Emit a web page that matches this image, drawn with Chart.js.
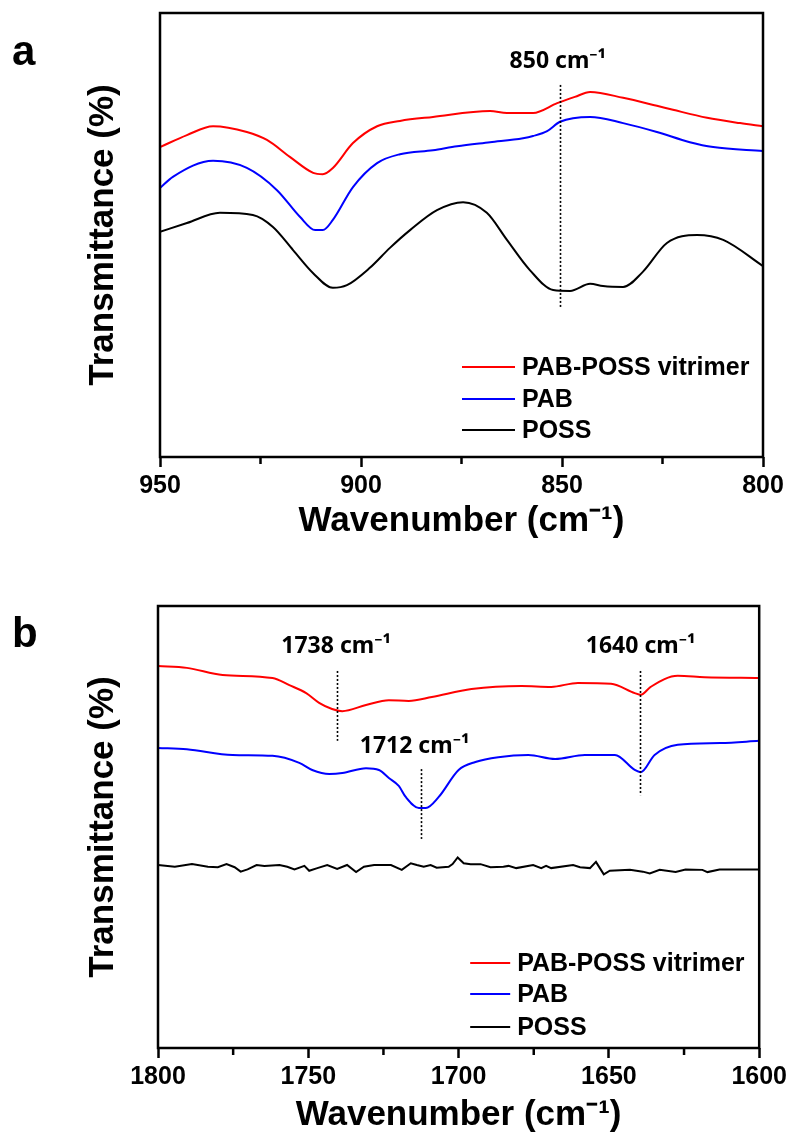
<!DOCTYPE html>
<html>
<head>
<meta charset="utf-8">
<script src="https://cdn.jsdelivr.net/npm/chart.js@4.4.1/dist/chart.umd.min.js"></script>
<style>
  html, body { margin: 0; padding: 0; background: #fff; }
  #wrapA { position: absolute; left: 0; top: 0; width: 791px; height: 560px; }
  #wrapB { position: absolute; left: 0; top: 560px; width: 791px; height: 586px; }
</style>
</head>
<body>
<div id="wrapA"><canvas id="chartA" width="791" height="560"></canvas></div>
<div id="wrapB"><canvas id="chartB" width="791" height="586"></canvas></div>
<script>
// ---- Panel a: 950-800 cm-1 ----
const aVitX = [950, 943.3, 936.8, 928.4, 923.4, 917.7, 911.9, 909.5, 907.0, 902.0, 896.0, 890.3, 882.1, 867.9, 863.7, 857.2, 851.2, 846.8, 843.0, 834.8, 826.4, 822.4, 813.9, 805.7, 800];
const aVitY = [69.8, 72.5, 74.5, 73.2, 71.4, 67.6, 64.0, 63.7, 65.1, 70.7, 74.5, 75.7, 76.6, 77.9, 77.5, 77.5, 79.7, 81.1, 82.2, 80.9, 79.1, 78.2, 76.4, 75.2, 74.5];

const aPabX = [950, 946.8, 936.8, 928.4, 920.9, 915.2, 911.4, 909.5, 907.0, 902.0, 896.0, 890.3, 882.1, 876.1, 867.9, 859.7, 857.2, 853.7, 850.5, 843.0, 834.8, 826.4, 818.2, 812.4, 800];
const aPabY = [60.6, 63.1, 66.7, 65.1, 60.1, 54.1, 51.1, 51.1, 53.4, 60.8, 66.2, 68.2, 69.1, 70.0, 70.9, 71.8, 72.3, 73.4, 75.5, 76.6, 75.2, 73.2, 70.9, 69.8, 68.9];

const aPossX = [950, 943.3, 935.1, 926.9, 921.9, 916.9, 911.9, 907.0, 903.5, 897.8, 892.8, 887.8, 881.1, 874.6, 868.7, 863.7, 858.0, 852.2, 848.0, 843.0, 839.8, 834.8, 829.9, 823.9, 816.4, 809.9, 800];
const aPossY = [50.7, 52.7, 55.0, 54.5, 51.8, 46.6, 41.4, 38.1, 38.7, 42.6, 47.1, 51.1, 55.6, 57.4, 55.0, 48.9, 42.1, 37.6, 37.4, 39.0, 38.5, 38.3, 41.7, 48.2, 50.0, 48.9, 43.0];

// ---- Panel b: 1800-1600 cm-1 ----
const bVitX = [1800, 1790.4, 1778.5, 1761.9, 1756.3, 1750.7, 1746.4, 1742.1, 1738.7, 1730.8, 1723.2, 1716.6, 1708.9, 1695.7, 1679.1, 1669.2, 1660.3, 1649.3, 1641.4, 1639.4, 1636.1, 1627.1, 1618.2, 1600];
const bVitY = [86.4, 86.0, 84.4, 83.7, 82.1, 80.3, 78.1, 76.7, 76.2, 77.6, 78.7, 78.5, 79.4, 81.2, 81.9, 81.7, 82.6, 82.4, 80.3, 79.9, 81.7, 84.2, 83.9, 83.7];

const bPabX = [1800, 1790.4, 1775.2, 1761.9, 1753.0, 1748.7, 1743.0, 1738.7, 1730.8, 1726.5, 1723.2, 1719.9, 1717.6, 1713.2, 1710.9, 1706.6, 1700.0, 1694.4, 1686.8, 1676.8, 1667.9, 1658.0, 1648.0, 1641.4, 1639.4, 1634.8, 1627.1, 1612.9, 1600];
const bPabY = [67.9, 67.6, 66.3, 66.1, 64.5, 62.9, 62.0, 62.2, 63.3, 62.9, 61.1, 59.3, 56.8, 54.3, 54.3, 56.8, 62.9, 64.7, 65.8, 66.3, 65.4, 66.3, 66.3, 62.9, 62.4, 66.3, 68.6, 69.0, 69.5];

const bPossX = [1800, 1794.4, 1788.7, 1783.4, 1780.1, 1777.2, 1774.5, 1772.5, 1770.2, 1767.2, 1764.6, 1759.6, 1757.0, 1754.6, 1751.3, 1749.7, 1747.0, 1743.7, 1740.4, 1737.1, 1734.1, 1731.5, 1728.1, 1722.5, 1718.9, 1715.9, 1713.9, 1711.6, 1709.3, 1707.3, 1703.3, 1702.0, 1700.3, 1698.3, 1696.0, 1692.7, 1689.4, 1685.1, 1683.4, 1680.8, 1675.2, 1672.5, 1670.9, 1669.2, 1661.9, 1659.6, 1656.3, 1654.3, 1653.0, 1651.7, 1649.7, 1643.0, 1638.7, 1636.4, 1633.1, 1627.8, 1624.5, 1618.9, 1617.2, 1613.2, 1607.9, 1600];
const bPossY = [41.4, 41.0, 41.6, 41.0, 40.9, 41.6, 40.9, 39.9, 40.4, 41.4, 41.2, 41.4, 41.0, 40.4, 41.2, 40.1, 40.7, 41.4, 40.5, 41.4, 39.8, 41.0, 41.4, 41.4, 40.3, 41.8, 41.4, 41.0, 41.4, 40.8, 41.0, 41.6, 43.1, 41.8, 41.6, 41.6, 40.9, 41.0, 41.2, 40.7, 41.4, 40.7, 41.2, 40.7, 41.4, 40.9, 40.7, 42.1, 40.7, 39.3, 40.1, 40.3, 39.9, 39.5, 40.3, 39.8, 40.4, 40.3, 39.8, 40.4, 40.4, 40.4];

const seriesNames = ['PAB-POSS vitrimer', 'PAB', 'POSS'];
const seriesColors = ['#ff0000', '#0000ff', '#000000'];

const ticksA = [950, 900, 850, 800];
const minorA = [925, 875, 825];
const ticksB = [1800, 1750, 1700, 1650, 1600];
const minorB = [1775, 1725, 1675, 1625];

// peak markers: position, label, dotted line from/to (y units), label baseline (y units)
const marksA = [{ x: 850.5, lx: 851, label: '850 cm⁻¹', y1: 83.8, y2: 33.8, ly: 87.6 }];
const marksB = [
  { x: 1740.5, lx: 1740.7, label: '1738 cm⁻¹', y1: 85.3, y2: 69.5, ly: 89.4 },
  { x: 1712.5, lx: 1714.6, label: '1712 cm⁻¹', y1: 63.1, y2: 47.3, ly: 66.7 },
  { x: 1639.5, lx: 1639.4, label: '1640 cm⁻¹', y1: 85.3, y2: 57.2, ly: 89.4 }
];

Chart.defaults.font.family = '"Liberation Sans", Arial, sans-serif';
Chart.defaults.color = '#000';

function pts(xs, ys) {
  return xs.map((x, i) => ({ x, y: ys[i] }));
}

// frame, minor ticks, peak markers, legend, panel letter
const decor = {
  id: 'decor',
  afterDatasetsDraw(chart, args, o) {
    const { ctx, chartArea: ca, scales: { x, y } } = chart;
    ctx.save();
    ctx.strokeStyle = '#000';
    ctx.lineWidth = 2.5;
    ctx.strokeRect(ca.left, ca.top, ca.right - ca.left, ca.bottom - ca.top);

    ctx.beginPath();
    o.minor.forEach(v => {
      const px = x.getPixelForValue(v);
      ctx.moveTo(px, ca.bottom);
      ctx.lineTo(px, ca.bottom + 7);
    });
    ctx.stroke();

    // dotted lines + labels
    ctx.lineWidth = 1.6;
    ctx.setLineDash([2, 2]);
    o.marks.forEach(m => {
      const px = Math.round(x.getPixelForValue(m.x)) + 0.5;
      ctx.beginPath();
      ctx.moveTo(px, y.getPixelForValue(m.y1));
      ctx.lineTo(px, y.getPixelForValue(m.y2));
      ctx.stroke();
    });
    ctx.setLineDash([]);
    ctx.font = 'bold 23px "Noto Sans", sans-serif';
    ctx.fillStyle = '#000';
    ctx.textAlign = 'center';
    ctx.textBaseline = 'alphabetic';
    o.marks.forEach(m => {
      ctx.fillText(m.label, x.getPixelForValue(m.lx), y.getPixelForValue(m.ly));
    });

    // legend
    ctx.font = 'bold 25px "Liberation Sans", Arial, sans-serif';
    ctx.textAlign = 'left';
    ctx.textBaseline = 'middle';
    ctx.lineWidth = 2;
    chart.data.datasets.forEach((ds, i) => {
      const ry = ca.bottom - o.legend.rows[i];
      ctx.strokeStyle = ds.borderColor;
      ctx.beginPath();
      ctx.moveTo(ca.right - o.legend.lineFrom, ry);
      ctx.lineTo(ca.right - o.legend.lineTo, ry);
      ctx.stroke();
      ctx.fillText(ds.label, ca.right - o.legend.text, ry + 1);
    });

    // panel letter
    ctx.font = 'bold 42px "Liberation Sans", Arial, sans-serif';
    ctx.textBaseline = 'alphabetic';
    ctx.fillText(o.letter, 12, o.letterY);
    ctx.restore();
  }
};

function makeChart(id, data, cfg) {
  const datasets = data.map((d, i) => ({
    label: seriesNames[i],
    data: d,
    borderColor: seriesColors[i],
    borderWidth: 2,
    pointRadius: 0,
    fill: false,
    cubicInterpolationMode: cfg.smooth[i] ? 'monotone' : 'default',
    tension: 0
  }));
  return new Chart(document.getElementById(id), {
    type: 'line',
    data: { datasets },
    options: {
      responsive: false,
      animation: false,
      devicePixelRatio: 1,
      layout: { padding: { left: 0, top: cfg.top, right: cfg.right, bottom: 0 } },
      plugins: {
        legend: { display: false },
        tooltip: { enabled: false },
        decor: { minor: cfg.minor, marks: cfg.marks, legend: cfg.legend, letter: cfg.letter, letterY: cfg.letterY }
      },
      scales: {
        x: {
          type: 'linear',
          reverse: true,
          min: cfg.min,
          max: cfg.max,
          afterBuildTicks: s => { s.ticks = cfg.ticks.map(v => ({ value: v })); },
          afterFit: s => { s.height = cfg.xHeight; },
          border: { display: false },
          grid: { drawOnChartArea: false, drawTicks: true, tickLength: 10, tickWidth: 2.5, tickColor: '#000' },
          ticks: { font: { size: 25, weight: 'bold' }, padding: 4, maxRotation: 0, callback: v => v },
          title: {
            display: true,
            text: 'Wavenumber (cm⁻¹)',
            font: { size: 35, weight: 'bold' },
            padding: { top: 0, bottom: cfg.titleBottom }
          }
        },
        y: {
          min: 0,
          max: 100,
          afterFit: s => { s.width = cfg.yWidth; },
          border: { display: false },
          grid: { display: false },
          ticks: { display: false },
          title: {
            display: true,
            text: 'Transmittance (%)',
            font: { size: 35, weight: 'bold' },
            padding: { top: 82, bottom: 0 }
          }
        }
      }
    },
    plugins: [decor]
  });
}

makeChart('chartA',
  [pts(aVitX, aVitY), pts(aPabX, aPabY), pts(aPossX, aPossY)],
  {
    min: 800, max: 950, ticks: ticksA, minor: minorA, marks: marksA,
    top: 13, right: 28, yWidth: 160, xHeight: 103, titleBottom: 18,
    smooth: [true, true, true],
    legend: { rows: [90, 58, 27], lineFrom: 301, lineTo: 248, text: 241 },
    letter: 'a', letterY: 65
  });

makeChart('chartB',
  [pts(bVitX, bVitY), pts(bPabX, bPabY), pts(bPossX, bPossY)],
  {
    min: 1600, max: 1800, ticks: ticksB, minor: minorB, marks: marksB,
    top: 46, right: 29, yWidth: 158, xHeight: 98, titleBottom: 10,
    smooth: [true, true, false],
    legend: { rows: [85, 54, 21], lineFrom: 289, lineTo: 249, text: 242 },
    letter: 'b', letterY: 87
  });
</script>
</body>
</html>
